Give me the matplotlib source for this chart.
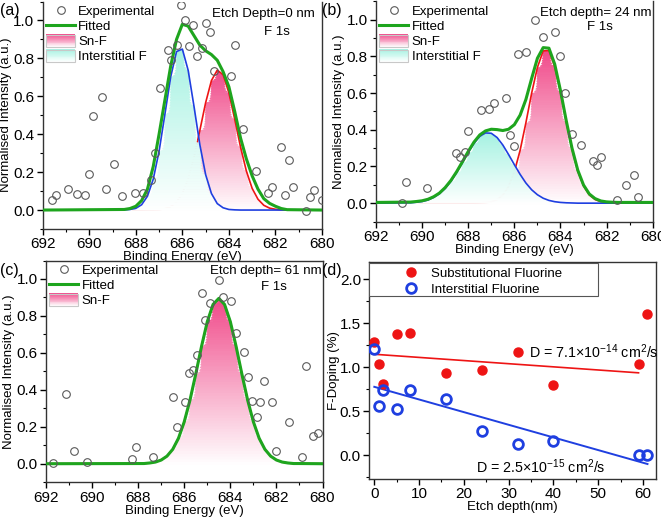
import numpy as np
import matplotlib
matplotlib.use("Agg")
import matplotlib.pyplot as plt
from matplotlib.colors import to_rgb
from matplotlib.patches import Rectangle, Patch
from matplotlib.legend_handler import HandlerBase

plt.rcParams['font.family'] = ['Liberation Sans', 'DejaVu Sans']

# ---------------- data ----------------
# (a) etch depth 0 nm
exp_a_x = [691.61, 691.43, 690.9, 690.54, 690.18, 690.0, 689.82, 689.47, 689.28, 688.94,
           688.58, 688.03, 687.67, 687.36, 687.17, 686.96, 686.6, 686.5, 686.24, 686.07,
           685.88, 685.71, 685.53, 685.36, 685.17, 685.0, 684.81, 684.64, 683.92, 683.74,
           683.38, 682.85, 682.3, 682.13, 681.76, 681.59, 681.42, 681.23, 680.7, 680.51,
           680.34, 680.01]
exp_a_y = [0.053, 0.079, 0.109, 0.083, 0.079, 0.19, 0.498, 0.595, 0.109, 0.243,
           0.074, 0.092, 0.092, 0.158, 0.30, 0.643, 0.842, 0.79, 0.868, 1.08,
           1.0, 0.863, 0.977, 0.81, 0.854, 0.986, 0.938, 0.736, 0.708, 0.871,
           0.426, 0.206, 0.092, 0.123, 0.335, 0.079, 0.264, 0.12, -0.004, 0.07,
           0.106, 0.053]
grid_a = [692.0, 688.5, 688.25, 688.0, 687.75, 687.5, 687.25, 687.0, 686.75, 686.5,
          686.25, 686.0, 685.75, 685.5, 685.25, 685.0, 684.75, 684.5, 684.25, 684.0,
          683.75, 683.5, 683.25, 683.0, 682.75, 682.5, 682.25, 682.0, 681.75, 681.5, 680.0]
inter_a = [0, 0.001, 0.003, 0.009, 0.028, 0.073, 0.163, 0.310, 0.505, 0.703,
           0.836, 0.849, 0.737, 0.547, 0.346, 0.187, 0.087, 0.034, 0.012, 0.003,
           0.001, 0, 0, 0, 0, 0, 0, 0, 0, 0, 0]
snf_a = [0, 0, 0, 0, 0, 0.001, 0.001, 0.002, 0.007, 0.018,
         0.042, 0.087, 0.165, 0.278, 0.419, 0.566, 0.683, 0.738, 0.714, 0.618,
         0.479, 0.332, 0.206, 0.114, 0.057, 0.025, 0.010, 0.004, 0.001, 0, 0]
fit_a = [0, 0.003, 0.008, 0.02, 0.05, 0.11, 0.23, 0.40, 0.58, 0.76,
         0.90, 0.98, 0.97, 0.92, 0.87, 0.84, 0.82, 0.79, 0.73, 0.65,
         0.52, 0.38, 0.27, 0.18, 0.11, 0.06, 0.035, 0.02, 0.008, 0.002, 0]

# (b) etch depth 24 nm
exp_b_x = [690.88, 690.7, 689.8, 688.52, 688.35, 688.16, 687.99, 687.45, 687.09, 686.9,
           686.36, 686.17, 686.01, 685.84, 685.48, 685.12, 684.75, 684.22, 684.03, 683.81,
           683.49, 683.13, 682.59, 682.41, 682.23, 681.54, 681.17, 680.81, 680.62]
exp_b_y = [0.002, 0.115, 0.084, 0.276, 0.251, 0.278, 0.393, 0.509, 0.516, 0.544,
           0.575, 0.371, 0.313, 0.815, 0.825, 1.0, 0.904, 0.931, 0.804, 0.598,
           0.375, 0.315, 0.231, 0.209, 0.251, 0.016, 0.1, 0.156, 0.035]
grid_b = [692.0, 690.5, 690.25, 690.0, 689.75, 689.5, 689.25, 689.0, 688.75, 688.5,
          688.25, 688.0, 687.75, 687.5, 687.25, 687.0, 686.75, 686.5, 686.25, 686.0,
          685.75, 685.5, 685.25, 685.0, 684.75, 684.5, 684.25, 684.0, 683.75, 683.5,
          683.25, 683.0, 682.75, 682.5, 682.25, 682.0, 681.75, 681.5, 680.0]
inter_b = [0, 0.002, 0.005, 0.009, 0.017, 0.031, 0.051, 0.080, 0.119, 0.167,
           0.221, 0.276, 0.326, 0.364, 0.383, 0.381, 0.358, 0.317, 0.265, 0.210,
           0.157, 0.110, 0.073, 0.046, 0.027, 0.015, 0.008, 0.004, 0.002, 0.001,
           0, 0, 0, 0, 0, 0, 0, 0, 0]
snf_b = [0, 0, 0, 0, 0, 0, 0, 0, 0, 0,
         0, 0, 0, 0.001, 0.003, 0.007, 0.019, 0.044, 0.091, 0.171,
         0.288, 0.438, 0.600, 0.740, 0.830, 0.832, 0.745, 0.606, 0.444, 0.294,
         0.175, 0.094, 0.045, 0.020, 0.008, 0.003, 0.001, 0, 0]
fit_b = [0.004, 0.006, 0.009, 0.013, 0.021, 0.035, 0.055, 0.085, 0.124, 0.172,
         0.226, 0.282, 0.333, 0.372, 0.394, 0.403, 0.401, 0.396, 0.403, 0.428,
         0.48, 0.565, 0.68, 0.79, 0.848, 0.845, 0.758, 0.614, 0.45, 0.30,
         0.18, 0.099, 0.05, 0.025, 0.012, 0.007, 0.005, 0.004, 0.004]

# (c) etch depth 61 nm
exp_c_x = [691.68, 691.13, 690.77, 690.24, 688.27, 688.1, 687.37, 686.48, 686.33, 685.97,
           685.78, 685.64, 685.44, 685.22, 685.08, 684.89, 684.5, 684.31, 683.98, 683.76,
           683.41, 683.22, 683.04, 682.86, 682.72, 682.53, 682.17, 682.0, 681.45, 680.91,
           680.72, 680.41, 680.19]
exp_c_y = [0.004, 0.379, 0.07, 0.009, 0.023, 0.088, 0.036, 0.359, 0.2, 0.334,
           0.491, 0.509, 0.59, 0.926, 0.78, 0.87, 0.996, 0.9, 0.879, 0.709,
           0.605, 0.469, 0.341, 0.251, 0.334, 0.448, 0.334, 0.07, 0.224, 0.038,
           0.527, 0.148, 0.168]
grid_c = [692.0, 688.0, 687.75, 687.5, 687.25, 687.0, 686.75, 686.5, 686.25, 686.0,
          685.75, 685.5, 685.25, 685.0, 684.75, 684.5, 684.25, 684.0, 683.75, 683.5,
          683.25, 683.0, 682.75, 682.5, 682.25, 682.0, 681.75, 681.5, 681.25, 681.0, 680.0]
snf_c = [0, 0.001, 0.001, 0.004, 0.009, 0.020, 0.041, 0.078, 0.138, 0.227,
         0.345, 0.486, 0.635, 0.769, 0.862, 0.895, 0.862, 0.769, 0.635, 0.486,
         0.345, 0.227, 0.138, 0.078, 0.041, 0.020, 0.009, 0.004, 0.001, 0.001, 0]
fit_c = snf_c  # single component, fit == Sn-F peak

# (d) F doping vs etch depth
depth = [0, 1, 2, 5, 8, 16, 24, 32, 40, 59, 61]
subst = [1.285, 1.036, 0.813, 1.376, 1.388, 0.938, 0.968, 1.172, 0.794, 1.04, 1.611]
inter = [1.21, 0.556, 0.745, 0.526, 0.741, 0.635, 0.28, 0.132, 0.163, 0.0, 0.0]

GREEN = '#1ea51e'
BLUE = '#1f3fe0'
RED = '#ee1414'
PINK = '#f04a8a'
CYAN = '#a6f2e2'
GRAY = '#5a5a5a'
SPINE = '#333333'


def gradient_fill(ax, x, y, color, z, nband=60):
    # vertical white -> colour gradient under a curve, built from thin bands
    x = np.asarray(x, float)
    y = np.asarray(y, float)
    top = y.max()
    c = np.array(to_rgb(color))
    for k in range(nband):
        lo = top * k / nband
        hi = top * (k + 1) / nband
        t = (k + 0.5) / nband
        col = 1 - t * (1 - c)
        ax.fill_between(x, np.minimum(y, hi), lo, where=y > lo, interpolate=True,
                        facecolor=col, edgecolor=col, lw=0.6, zorder=z)


class GradHandler(HandlerBase):
    def __init__(self, color):
        super().__init__()
        self.color = np.array(to_rgb(color))

    def create_artists(self, legend, orig_handle, xdescent, ydescent,
                       width, height, fontsize, trans):
        arts = []
        n = 14
        for i in range(n):
            t = (i + 0.5) / n
            c = 1 - t * (1 - self.color)
            arts.append(Rectangle((-xdescent, -ydescent + i * height / n), width,
                                  height / n + 0.3, fc=c, ec='none', transform=trans))
        arts.append(Rectangle((-xdescent, -ydescent), width, height, fc='none',
                              ec='#c8c8c8', lw=0.8, transform=trans))
        return arts


def style_axes(ax, top=True):
    for s in ax.spines.values():
        s.set_color(SPINE)
        s.set_linewidth(1.0)
    ax.spines['top'].set_visible(top)
    ax.tick_params(which='major', direction='out', length=4, width=1,
                   labelsize=11, pad=2, colors='black')
    ax.tick_params(which='minor', direction='out', length=2.5, width=0.8)


def spectrum(ax, ex_x, ex_y, grid, fit, snf, inter_f=None, top=True):
    gradient_fill(ax, grid, snf, PINK, 1)
    ax.plot(grid, snf, color=RED, lw=1.2, zorder=2)
    if inter_f is not None:
        gradient_fill(ax, grid, inter_f, CYAN, 3)
        ax.plot(grid, inter_f, color=BLUE, lw=1.2, zorder=4)
    fl, = ax.plot(grid, fit, color=GREEN, lw=2.2, zorder=5)
    el, = ax.plot(ex_x, ex_y, 'o', mfc='none', mec=GRAY, ms=5.5, mew=0.8, zorder=6)
    ax.set_xlim(692, 680)
    ax.set_ylim(-0.1, 1.1)
    ax.set_xticks(np.arange(680, 693, 2))
    ax.set_xticks(np.arange(680, 693, 1), minor=True)
    ax.set_yticks(np.arange(0, 1.01, 0.2))
    ax.set_yticks(np.arange(-0.1, 1.11, 0.1), minor=True)
    ax.set_xlabel('Binding Energy (eV)', fontsize=9.5, labelpad=0)
    ax.set_ylabel('Normalised Intensity (a.u.)', fontsize=9.5, labelpad=1)
    style_axes(ax, top)

    p1 = Patch(label='Sn-F')
    handles = [el, fl, p1]
    labels = ['Experimental', 'Fitted', 'Sn-F']
    hmap = {p1: GradHandler(PINK)}
    if inter_f is not None:
        p2 = Patch(label='Interstitial F')
        handles.append(p2)
        labels.append('Interstitial F')
        hmap[p2] = GradHandler(CYAN)
    ax.legend(handles, labels, handler_map=hmap, loc='upper left',
              bbox_to_anchor=(0, 1), frameon=False, fontsize=9.5,
              borderaxespad=0.1, borderpad=0.15, handlelength=2.2,
              handleheight=1.05, labelspacing=0.1, handletextpad=0.25)


fig = plt.figure(figsize=(6.61, 5.17), dpi=100)
W, H = 661.0, 517.0


def axes_px(left, top, right, bottom):
    return fig.add_axes([left / W, 1 - bottom / H, (right - left) / W, (bottom - top) / H])


ax_a = axes_px(42.7, 1.5, 322, 229)
ax_b = axes_px(376, 1.4, 652.7, 221.5)
ax_c = axes_px(46, 260.5, 322.5, 482.2)
ax_d = axes_px(369.3, 261.7, 656, 479)

spectrum(ax_a, exp_a_x, exp_a_y, grid_a, fit_a, snf_a, inter_a, top=False)
spectrum(ax_b, exp_b_x, exp_b_y, grid_b, fit_b, snf_b, inter_b, top=False)
spectrum(ax_c, exp_c_x, exp_c_y, grid_c, fit_c, snf_c)

ax_a.text(0.975, 0.945, 'Etch Depth=0 nm', transform=ax_a.transAxes, ha='right', va='center', fontsize=9.5)
ax_a.text(0.837, 0.865, 'F 1s', transform=ax_a.transAxes, ha='center', va='center', fontsize=9.5)
ax_b.text(0.996, 0.949, 'Etch depth= 24 nm', transform=ax_b.transAxes, ha='right', va='center', fontsize=9.5)
ax_b.text(0.811, 0.883, 'F 1s', transform=ax_b.transAxes, ha='center', va='center', fontsize=9.5)
ax_c.text(0.998, 0.951, 'Etch depth= 61 nm', transform=ax_c.transAxes, ha='right', va='center', fontsize=9.5)
ax_c.text(0.823, 0.880, 'F 1s', transform=ax_c.transAxes, ha='center', va='center', fontsize=9.5)

# (d)
d = np.array(depth, float)
s = np.array(subst)
i_ = np.array(inter)
ps = np.polyfit(d[:-1], s[:-1], 1)   # last point left out of the red fit
pi = np.polyfit(d, i_, 1)
xs = np.array([d[0], d[-2]])
xi = np.array([d[0], d[-1]])
ax_d.plot(xs, np.polyval(ps, xs), color=RED, lw=1.2, zorder=2)
ax_d.plot(xi, np.polyval(pi, xi), color=BLUE, lw=1.4, zorder=2)
h1, = ax_d.plot(depth, subst, 'o', color=RED, ms=6.5, mec=RED, zorder=3)
h2, = ax_d.plot(depth, inter, 'o', mfc='none', mec=BLUE, ms=7, mew=2, zorder=3)
ax_d.set_xlim(-1.12, 62.9)
ax_d.set_ylim(-0.27, 2.2)
ax_d.set_xticks(np.arange(0, 61, 10))
ax_d.set_xticks(np.arange(0, 61, 5), minor=True)
ax_d.set_yticks(np.arange(0, 2.01, 0.5))
ax_d.set_yticks(np.arange(-0.25, 2.2, 0.25), minor=True)
ax_d.set_xlabel('Etch depth(nm)', fontsize=9.5, labelpad=0)
ax_d.set_ylabel('F-Doping (%)', fontsize=9.5, labelpad=0)
style_axes(ax_d)

# legend frame drawn separately so the markers can sit further in
ax_d.add_patch(Rectangle((0, 0.842), 0.799, 0.152, transform=ax_d.transAxes,
                         fc='white', ec='#555555', lw=0.8, zorder=4))
leg = ax_d.legend([h1, h2], ['Substitutional Fluorine', 'Interstitial Fluorine'],
                  loc='upper left', bbox_to_anchor=(0.1, 0.972), frameon=False,
                  borderaxespad=0, borderpad=0, fontsize=9.5, labelspacing=0.25,
                  handletextpad=0.5, handlelength=2.0)
leg.set_zorder(5)
ax_d.text(34.6, 1.18, r'D = 7.1×10$^{\mathregular{-14}}$ cm$^{\mathregular{2}}$/s',
          ha='left', va='center', fontsize=10.3)
ax_d.text(22.8, -0.125, r'D = 2.5×10$^{\mathregular{-15}}$ cm$^{\mathregular{2}}$/s',
          ha='left', va='center', fontsize=10.3)

for lab, x, y in [('(a)', 0, 11), ('(b)', 322, 10), ('(c)', 0, 271), ('(d)', 322, 271)]:
    fig.text(x / W, 1 - y / H, lab, ha='left', va='center', fontsize=11.5)

fig.savefig('out.png', dpi=100)
